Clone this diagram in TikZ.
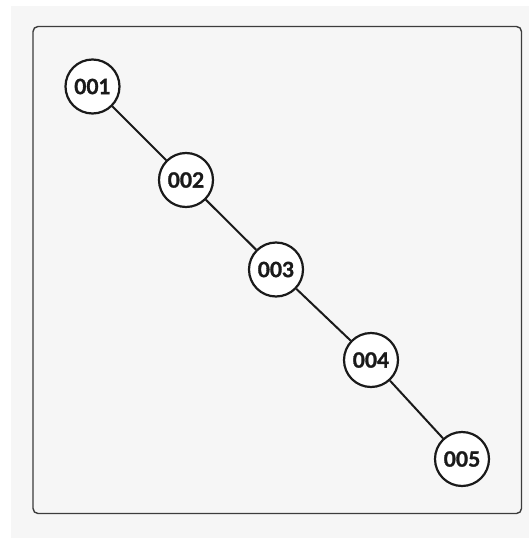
\documentclass[tikz,border=0pt]{standalone}
\usepackage{fontspec}
\setmainfont{Lato}
\definecolor{panel}{HTML}{F6F6F6}
\definecolor{ink}{HTML}{1A1A1A}
\tikzset{
  treenode/.style={circle, draw=ink, fill=white, line width=2.2pt,
    minimum size=54pt, inner sep=0pt,
    font=\addfontfeatures{FakeBold=1.5}\bfseries\fontsize{21}{21}\selectfont, text=ink},
  link/.style={draw=ink, line width=2pt}
}
\begin{document}
\begin{tikzpicture}[x=1pt,y=-1pt]
  \useasboundingbox (0,0) rectangle (529,538);
  \fill[white] (0,0) rectangle (529,538);
  \fill[panel] (11,6) rectangle (529,538);
  \draw[ink!85, line width=1.4pt, rounded corners=5pt] (33,26.5) rectangle (521.5,513.5);

  \node[treenode] (n1) at (92.5,86.5) {001};
  \node[treenode] (n2) at (186,180) {002};
  \node[treenode] (n3) at (276,269.5) {003};
  \node[treenode] (n4) at (371,360) {004};
  \node[treenode] (n5) at (462,459) {005};

  \draw[link] (n1) -- (n2);
  \draw[link] (n2) -- (n3);
  \draw[link] (n3) -- (n4);
  \draw[link] (n4) -- (n5);
\end{tikzpicture}
\end{document}
